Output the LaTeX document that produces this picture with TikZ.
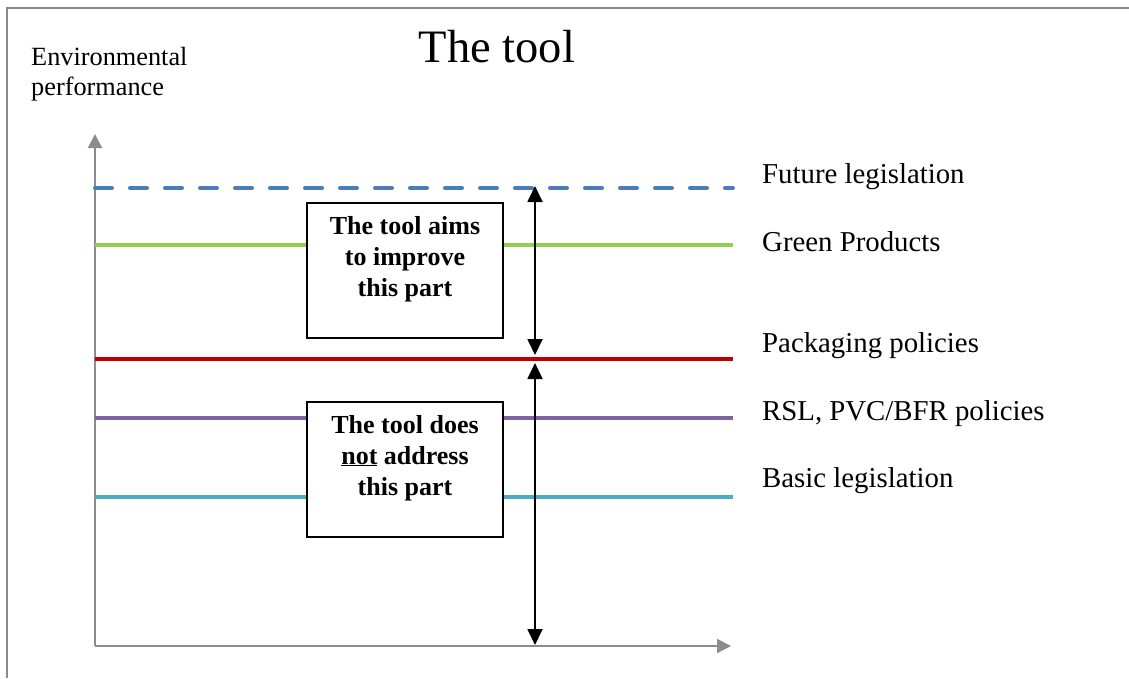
\documentclass[tikz,border=0pt]{standalone}
\usepackage{fontspec}
\setmainfont{Liberation Serif}
\usetikzlibrary{arrows.meta}
\definecolor{axisgray}{HTML}{8C8C8C}
\definecolor{framegray}{HTML}{8A8A8A}
\definecolor{futureblue}{HTML}{4A7EBB}
\definecolor{greenline}{HTML}{92D050}
\definecolor{redline}{HTML}{C00000}
\definecolor{purpleline}{HTML}{8064A2}
\definecolor{cyanline}{HTML}{4BACC6}
\tikzset{
  axisline/.style={draw=axisgray, line width=2pt, -{Triangle[length=14pt,width=14pt]}},
  level/.style={line width=3.2pt},
  levellabel/.style={anchor=base west, inner sep=0pt, font=\fontsize{28.8}{30}\selectfont},
  span/.style={line width=1.8pt, {Triangle[length=16pt,width=15pt]}-{Triangle[length=16pt,width=15pt]}},
  notebox/.style={draw=black, line width=2pt, fill=white, minimum width=196pt, minimum height=135pt,
    inner sep=0pt, align=center, font=\fontsize{26}{31}\selectfont\bfseries},
}
\begin{document}
\begin{tikzpicture}[x=1pt, y=-1pt]
  \useasboundingbox (0,0) rectangle (1129,678);
  % page frame (top and left edges)
  \draw[framegray, line width=2pt] (7,678) -- (7,8) -- (1129,8);

  % title and axis caption
  \node[anchor=base, inner sep=0pt, font=\fontsize{46.5}{50}\selectfont] (title) at (497,62) {The tool};
  \node[anchor=base west, inner sep=0pt, font=\fontsize{26.3}{30}\selectfont] (ylab1) at (31,65) {Environmental};
  \node[anchor=base west, inner sep=0pt, font=\fontsize{26.3}{30}\selectfont] (ylab2) at (31,95) {performance};

  % axes
  \coordinate (origin) at (95,646);
  \coordinate (ytip) at (95,134);
  \coordinate (xtip) at (731,646);
  \draw[axisline] (origin) -- (ytip);
  \draw[axisline] (origin) -- (xtip);

  % level lines
  \coordinate (fl0) at (95,188);  \coordinate (fl1) at (733,188);
  \coordinate (gl0) at (95,245);  \coordinate (gl1) at (733,245);
  \coordinate (pl0) at (95,359);  \coordinate (pl1) at (733,359);
  \coordinate (rl0) at (95,418);  \coordinate (rl1) at (733,418);
  \coordinate (bl0) at (95,497);  \coordinate (bl1) at (733,497);
  \draw[futureblue, line width=4pt, line cap=round, dash pattern=on 17pt off 18pt] (fl0) -- (fl1);
  \draw[greenline, level] (gl0) -- (gl1);
  \draw[redline, level] (pl0) -- (pl1);
  \draw[purpleline, level] (rl0) -- (rl1);
  \draw[cyanline, level] (bl0) -- (bl1);

  % level labels
  \node[levellabel] (lfuture) at (762,183) {Future legislation};
  \node[levellabel] (lgreen) at (762,251) {Green Products};
  \node[levellabel] (lpack) at (762,352) {Packaging policies};
  \node[levellabel] (lrsl) at (762,420) {RSL, PVC/BFR policies};
  \node[levellabel] (lbasic) at (762,487) {Basic legislation};

  % explanation boxes
  \node[notebox] (improve) at (405,270.5) {The tool aims\\to improve\\this part\\[-2pt]};
  \node[notebox] (notaddr) at (405,469.5) {The tool does\\\underline{not} address\\this part\\[-2pt]};

  % span arrows
  \coordinate (ua) at (535,186);
  \coordinate (ub) at (535,355);
  \coordinate (la) at (535,363);
  \coordinate (lb) at (535,645);
  \draw[span] (ua) -- (ub);
  \draw[span] (la) -- (lb);
\end{tikzpicture}
\end{document}
